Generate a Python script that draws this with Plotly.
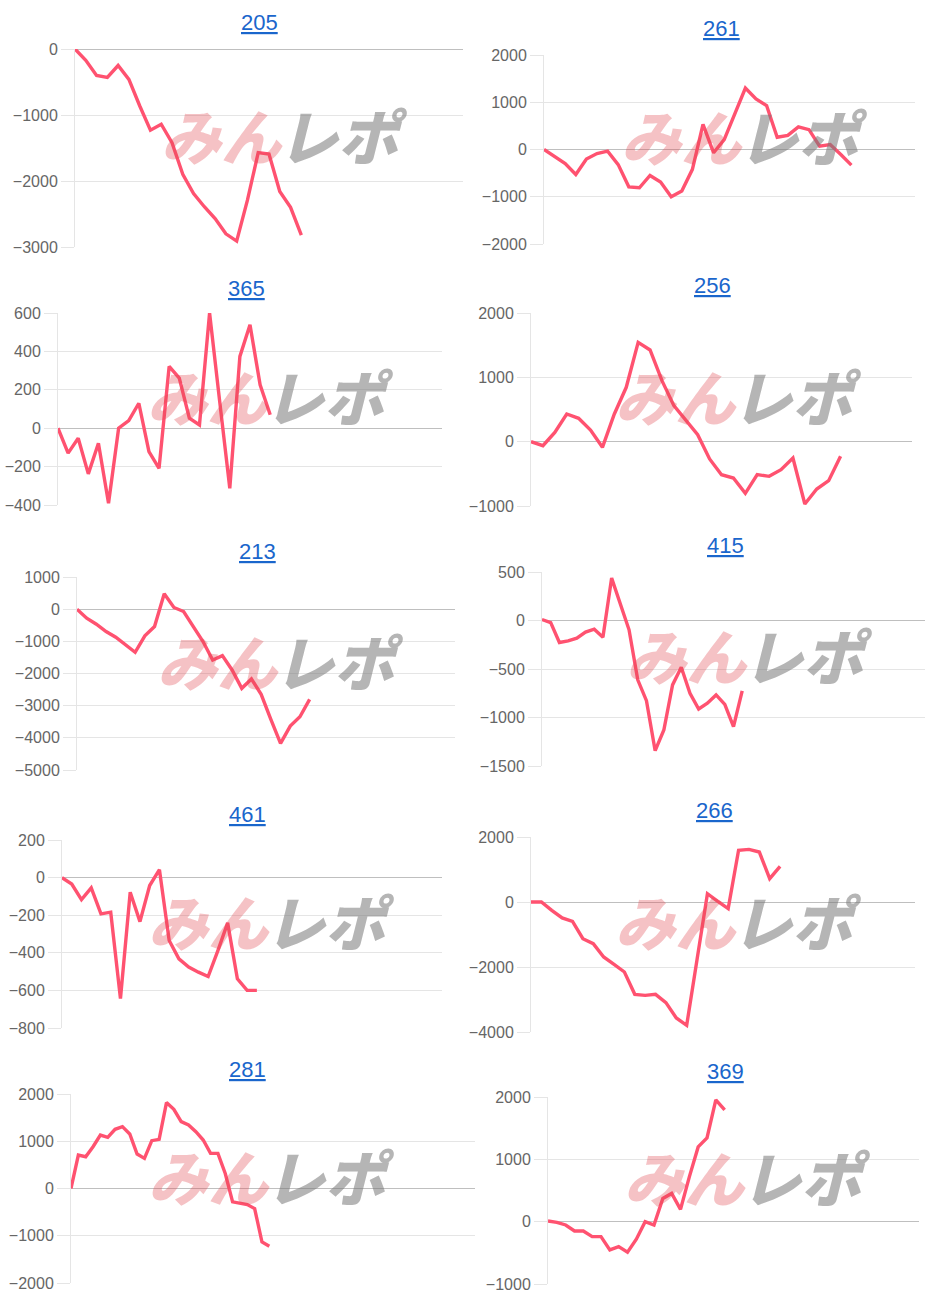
import plotly.graph_objects as go

W, H = 935, 1303

# ---------------- data ----------------
titles = ["205", "261", "365", "256", "213", "415", "461", "266", "281", "369"]

s205 = [0, -170, -400, -430, -250, -460, -860, -1230, -1140, -1420, -1900, -2190, -2390,
        -2570, -2800, -2910, -2290, -1570, -1590, -2160, -2400, -2820]
s261 = [0, -155, -300, -530, -200, -85, -35, -320, -790, -810, -550, -690, -1000, -880, -420,
        530, -70, 210, 740, 1300, 1070, 930, 260, 300, 480, 420, 70, 105, -105, -330]
s365 = [0, -130, -52, -238, -78, -391, 0, 40, 130, -122, -209, 322, 261, 52, 17, 600, 140,
        -313, 374, 539, 226, 70]
s256 = [0, -62, 145, 430, 363, 181, -88, 430, 845, 1544, 1425, 948, 560, 326, 109, -269, -513,
        -565, -803, -513, -539, -435, -254, -969, -736, -606, -228]
s213 = [0, -280, -467, -696, -872, -1111, -1340, -831, -540, 478, 52, -73, -519, -1007, -1578,
        -1443, -1890, -2461, -2170, -2648, -3427, -4174, -3634, -3344, -2804]
s415 = [10, -21, -227, -210, -182, -120, -89, -172, 437, 179, -96, -612, -826, -1342, -1129,
        -664, -482, -750, -912, -853, -767, -864, -1094, -726]
s461 = [0, -34, -117, -55, -193, -184, -644, -78, -234, -42, 42, -335, -432, -476, -503, -526,
        -388, -241, -538, -600, -600]
s266 = [0, 0, -256, -492, -595, -1128, -1282, -1692, -1918, -2154, -2841, -2872, -2841, -3097,
        -3569, -3795, -1770, 256, 20, -205, 1590, 1620, 1538, 718, 1097]
s281 = [0, 708, 672, 885, 1132, 1083, 1253, 1309, 1154, 729, 637, 1012, 1040, 1819, 1677, 1415,
        1345, 1203, 1026, 743, 743, 318, -283, -304, -340, -425, -1132, -1224]
s369 = [10, -11, -53, -149, -149, -240, -240, -453, -400, -490, -282, 0, -53, 373, 453, 197,
        719, 1199, 1343, 1955, 1795]

series = [s205, s261, s365, s256, s213, s415, s461, s266, s281, s369]

# number of category slots on each hidden x axis
slot_counts = [36, 35, 38, 32, 39, 44, 39, 37, 55, 42]

# y-axis scale of each chart: (min, max, step)
y_scales = [(-3000, 0, 1000), (-2000, 2000, 1000), (-400, 600, 200), (-1000, 2000, 1000),
            (-5000, 1000, 1000), (-1500, 500, 500), (-800, 200, 200), (-4000, 2000, 2000),
            (-2000, 2000, 1000), (-1000, 2000, 1000)]

# ---------------- layout geometry (pixels) ----------------
boxes = [(75, 463, 49, 247), (544, 915, 55, 244), (58, 442, 313, 505), (531, 912, 313, 506),
         (77, 455, 577, 770), (542, 925, 572, 766), (62, 442, 840, 1028), (531, 915, 837, 1032),
         (71, 475, 1094, 1283), (548, 919, 1097, 1284)]
title_pos = [(259, 22), (721, 29), (246, 288), (712, 286), (257, 551), (725, 545),
             (247, 814), (714, 810), (247, 1069), (725, 1071)]
mark_pos = [(285, 133), (745, 134), (271, 394), (739, 394), (281, 659), (750, 654),
            (272, 919), (739, 919), (272, 1174), (748, 1175)]

LINE = "rgb(255, 82, 112)"
GRID = "rgba(0,0,0,0.1)"
ZERO = "rgba(0,0,0,0.25)"
TICKF = dict(family="Liberation Sans, Arial, sans-serif", size=16, color="#666666")


def px(x):
    return x / W


def py(y):
    return 1 - y / H


fig = go.Figure()
layout = dict(
    width=W, height=H, margin=dict(l=0, r=0, t=0, b=0, pad=0, autoexpand=False),
    paper_bgcolor="white", plot_bgcolor="white", showlegend=False,
)
annotations = []

for i, vals in enumerate(series):
    k = "" if i == 0 else str(i + 1)
    l, r, t, b = boxes[i]
    ymin, ymax, step = y_scales[i]
    fig.add_trace(go.Scatter(
        x=list(range(len(vals))), y=vals, mode="lines",
        line=dict(color=LINE, width=3.4),
        xaxis="x" + k, yaxis="y" + k, hoverinfo="skip",
    ))
    layout["xaxis" + k] = dict(
        domain=[px(l), px(r)], range=[0, slot_counts[i]], anchor="y" + k,
        showgrid=False, zeroline=False, showticklabels=False, showline=False, ticks="",
        fixedrange=True, automargin=False,
    )
    layout["yaxis" + k] = dict(
        domain=[py(b), py(t)], range=[ymin, ymax], anchor="x" + k,
        tick0=0, dtick=step, showgrid=True, gridcolor=GRID, gridwidth=1,
        zeroline=True, zerolinecolor=ZERO, zerolinewidth=1,
        showline=True, linecolor=GRID, linewidth=1,
        ticks="outside", ticklen=13, tickcolor=GRID, tickwidth=1,
        tickfont=TICKF, fixedrange=True, automargin=False,
    )
    tx, ty = title_pos[i]
    annotations.append(dict(
        text="<u>" + titles[i] + "</u>", x=px(tx), y=py(ty), xref="paper", yref="paper",
        xanchor="center", yanchor="middle", showarrow=False,
        font=dict(family="Liberation Sans, Arial, sans-serif", size=22, color="#1a66cc"),
    ))
    mx, my = mark_pos[i]
    annotations.append(dict(
        text="みん", x=px(mx - 63), y=py(my), xref="paper", yref="paper",
        xanchor="center", yanchor="middle", showarrow=False,
        font=dict(family="Noto Sans CJK JP", size=60, weight=900, style="italic",
                  color="rgba(225,70,80,0.33)"),
    ))
    annotations.append(dict(
        text="レポ", x=px(mx + 58), y=py(my), xref="paper", yref="paper",
        xanchor="center", yanchor="middle", showarrow=False,
        font=dict(family="Noto Sans CJK JP", size=60, weight=900, style="italic",
                  color="rgba(120,120,120,0.55)"),
    ))

layout["annotations"] = annotations
fig.update_layout(**layout)
fig.write_html("out.html")
